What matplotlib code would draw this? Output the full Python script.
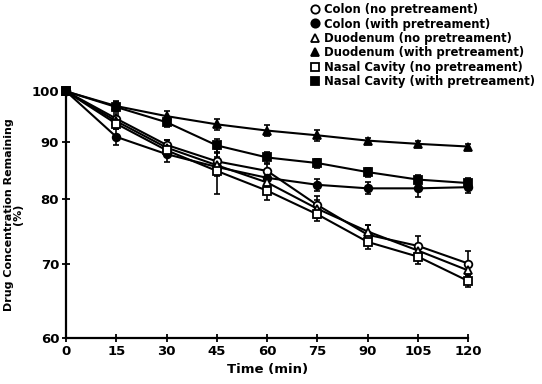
import matplotlib
matplotlib.use("Agg")
import matplotlib.pyplot as plt
from matplotlib.ticker import FixedLocator, FixedFormatter, NullLocator

# Données
time = [0, 15, 30, 45, 60, 75, 90, 105, 120]

colon_no = [100, 94.5, 89.5, 86.5, 84.8, 79.0, 74.3, 72.6, 70.0]
colon_with = [100, 91.0, 87.8, 85.5, 83.6, 82.4, 81.8, 81.8, 82.0]
duod_no = [100, 94.0, 89.0, 85.8, 82.8, 78.4, 74.8, 71.9, 69.0]
duod_with = [100, 97.0, 95.0, 93.4, 92.2, 91.3, 90.3, 89.7, 89.2]
nasal_no = [100, 93.5, 88.5, 84.8, 81.4, 77.5, 73.2, 71.0, 67.5]
nasal_with = [100, 96.8, 93.8, 89.4, 87.2, 86.2, 84.6, 83.3, 82.7]

colon_no_err = [0, 1.0, 1.0, 1.5, 1.2, 1.5, 1.5, 1.5, 1.8]
colon_with_err = [0, 1.5, 1.5, 1.5, 1.2, 1.0, 1.0, 1.5, 1.0]
duod_no_err = [0, 1.0, 1.5, 1.5, 1.5, 1.5, 1.0, 1.0, 1.0]
duod_with_err = [0, 1.0, 1.0, 1.0, 1.0, 1.0, 0.5, 0.5, 0.5]
nasal_no_err = [0, 1.0, 1.0, 4.0, 1.5, 1.0, 1.0, 1.0, 0.8]
nasal_with_err = [0, 1.0, 1.0, 1.2, 1.0, 0.8, 0.8, 0.8, 0.8]

labels = [
    "Colon (no pretreament)",
    "Colon (with pretreament)",
    "Duodenum (no pretreament)",
    "Duodenum (with pretreament)",
    "Nasal Cavity (no pretreament)",
    "Nasal Cavity (with pretreament)",
]
series = [colon_no, colon_with, duod_no, duod_with, nasal_no, nasal_with]
errors = [colon_no_err, colon_with_err, duod_no_err, duod_with_err, nasal_no_err, nasal_with_err]
markers = ["o", "o", "^", "^", "s", "s"]
filled = [False, True, False, True, False, True]

y_ticks = [60, 70, 80, 90, 100]
x_ticks = [0, 15, 30, 45, 60, 75, 90, 105, 120]

plt.rcParams["font.family"] = "DejaVu Sans"
plt.rcParams["font.weight"] = "bold"

fig = plt.figure(figsize=(5.42, 3.84), dpi=100)
ax = fig.add_axes([0.122, 0.12, 0.742, 0.642])

for vals, err, m, f, lab in zip(series, errors, markers, filled, labels):
    ax.errorbar(time, vals, yerr=err, color="black", elinewidth=1.2,
                capsize=2.2, capthick=1.2, fmt="none", clip_on=False)
    ax.plot(time, vals, color="black", lw=1.5, marker=m, ms=5.5,
            mfc="black" if f else "white", mec="black", mew=1.3,
            clip_on=False, label=lab, zorder=3)

ax.set_yscale("log")
ax.set_ylim(60, 100)
ax.set_xlim(0, 120)
ax.yaxis.set_major_locator(FixedLocator(y_ticks))
ax.yaxis.set_major_formatter(FixedFormatter([str(v) for v in y_ticks]))
ax.yaxis.set_minor_locator(NullLocator())
ax.set_xticks(x_ticks)

ax.spines["top"].set_visible(False)
ax.spines["right"].set_visible(False)
ax.spines["left"].set_linewidth(1.6)
ax.spines["bottom"].set_linewidth(1.6)
ax.tick_params(direction="inout", length=6, width=1.3, labelsize=9.5, pad=2)

ax.set_xlabel("Time (min)", fontsize=9.5, fontweight="bold", labelpad=4)
ax.set_ylabel("Drug Concentration Remaining\n(%)", fontsize=8, fontweight="bold",
              linespacing=0.9, labelpad=6)

# Légende sans lignes, uniquement les marqueurs
leg_handles = [plt.Line2D([], [], ls="none", marker=m, ms=6, mec="black", mew=1.3,
                          mfc="black" if f else "white")
               for m, f in zip(markers, filled)]
fig.legend(leg_handles, labels, loc="upper right", bbox_to_anchor=(1.0, 1.01),
           frameon=False, fontsize=8.4, handlelength=0.6, handletextpad=0.5,
           labelspacing=0.12, borderaxespad=0.2)

fig.savefig("out.png", dpi=100)
